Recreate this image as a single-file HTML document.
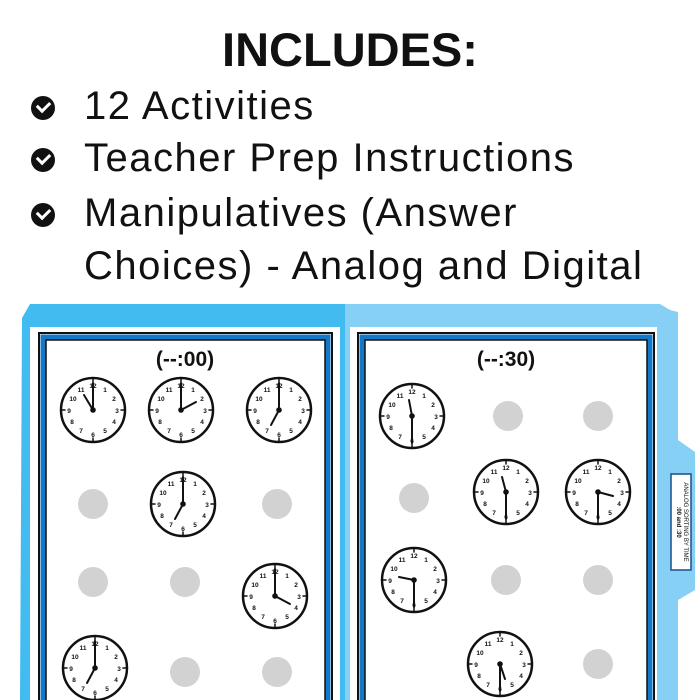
<!DOCTYPE html>
<html><head><style>
body{margin:0;width:700px;height:700px;overflow:hidden;background:#fff;font-family:"Liberation Sans",sans-serif;position:relative}
.h{position:absolute;top:22px;left:0;width:700px;text-align:center;font-size:47px;font-weight:bold;color:#111}
.l{position:absolute;left:84px;font-size:40px;letter-spacing:1.5px;color:#111;white-space:nowrap}
.c{position:absolute;left:31px;width:24px;height:24px;border-radius:50%;background:#111}
.c:after{content:"";position:absolute;left:6px;top:5px;width:10px;height:6px;border-left:3.5px solid #fff;border-bottom:3.5px solid #fff;transform:rotate(-45deg)}
svg text{font-family:"Liberation Sans",sans-serif}
</style></head><body>
<div class="h">INCLUDES:</div>
<div class="c" style="top:96px"></div><div class="l" style="top:84px">12 Activities</div>
<div class="c" style="top:148px"></div><div class="l" style="top:136px">Teacher Prep Instructions</div>
<div class="c" style="top:203px"></div><div class="l" style="top:191px">Manipulatives (Answer</div>
<div class="l" style="top:244px">Choices) - Analog and Digital</div>
<svg width="700" height="700" style="position:absolute;left:0;top:0">
<defs>
<g id="f">
<circle r="32" fill="#fff" stroke="#111" stroke-width="2.5"/>
<g stroke="#111" stroke-width="1.5">
<line x1="0" y1="-32" x2="0" y2="-28"/><line x1="0" y1="32" x2="0" y2="28"/><line x1="-32" y1="0" x2="-28" y2="0"/><line x1="32" y1="0" x2="28" y2="0"/>
</g>
<circle r="1.8" fill="#111"/>
</g>
</defs>
<path d="M22 318 L30 304 L345 304 L345 700 L20 700 Z" fill="#42bbf1"/>
<path d="M345 304 L660 304 L670 310 L678 312 L678 440 L695 452 L695 590 L678 600 L678 700 L345 700 Z" fill="#86cff5"/>
<rect x="30" y="327" width="310" height="380" fill="#fff"/>
<rect x="350" y="327" width="307" height="380" fill="#fff"/>
<rect x="39" y="333" width="293" height="380" fill="none" stroke="#111" stroke-width="2"/>
<rect x="43" y="337" width="285" height="380" fill="none" stroke="#1478c8" stroke-width="5"/>
<rect x="46" y="340" width="279" height="380" fill="#fff" stroke="#111" stroke-width="1.5"/>
<rect x="358" y="333" width="296" height="380" fill="none" stroke="#111" stroke-width="2"/>
<rect x="362" y="337" width="288" height="380" fill="none" stroke="#1478c8" stroke-width="5"/>
<rect x="365" y="340" width="282" height="380" fill="#fff" stroke="#111" stroke-width="1.5"/>
<text x="185" y="366" font-size="21" font-weight="bold" text-anchor="middle" fill="#111">(--:00)</text>
<text x="506" y="366" font-size="21" font-weight="bold" text-anchor="middle" fill="#111">(--:30)</text>
<g fill="#d2d2d2">
<circle cx="93" cy="504" r="15"/><circle cx="277" cy="504" r="15"/><circle cx="93" cy="582" r="15"/><circle cx="185" cy="582" r="15"/><circle cx="185" cy="672" r="15"/><circle cx="277" cy="672" r="15"/>
<circle cx="508" cy="416" r="15"/><circle cx="598" cy="416" r="15"/><circle cx="414" cy="498" r="15"/><circle cx="506" cy="580" r="15"/><circle cx="598" cy="580" r="15"/><circle cx="598" cy="664" r="15"/>
</g>
<rect x="671" y="474" width="20" height="96" fill="#fff" stroke="#1a4f8a" stroke-width="1.5"/>
<text transform="translate(684,522) rotate(90)" font-size="6" text-anchor="middle" fill="#111">ANALOG SORTING BY TIME</text>
<text transform="translate(677,522) rotate(90)" font-size="6" font-weight="bold" text-anchor="middle" fill="#111">:00 and :30</text>
<g font-size="6.5" font-weight="bold" text-anchor="middle" fill="#111" stroke="#111" stroke-width="2" stroke-linecap="round">
<g transform="translate(93,410)"><use href="#f"/><line x1="0" y1="0" x2="0" y2="-27"/><line x1="0" y1="0" x2="-9" y2="-15"/><g stroke="none"><text y="-22">12</text><text x="12" y="-18">1</text><text x="21" y="-9">2</text><text x="24" y="3">3</text><text x="21" y="14">4</text><text x="12" y="23">5</text><text y="27">6</text><text x="-12" y="23">7</text><text x="-21" y="14">8</text><text x="-24" y="3">9</text><text x="-20" y="-9">10</text><text x="-12" y="-18">11</text></g></g>
<g transform="translate(181,410)"><use href="#f"/><line x1="0" y1="0" x2="0" y2="-27"/><line x1="0" y1="0" x2="15" y2="-8"/><g stroke="none"><text y="-22">12</text><text x="12" y="-18">1</text><text x="21" y="-9">2</text><text x="24" y="3">3</text><text x="21" y="14">4</text><text x="12" y="23">5</text><text y="27">6</text><text x="-12" y="23">7</text><text x="-21" y="14">8</text><text x="-24" y="3">9</text><text x="-20" y="-9">10</text><text x="-12" y="-18">11</text></g></g>
<g transform="translate(279,410)"><use href="#f"/><line x1="0" y1="0" x2="0" y2="-27"/><line x1="0" y1="0" x2="-8" y2="15"/><g stroke="none"><text y="-22">12</text><text x="12" y="-18">1</text><text x="21" y="-9">2</text><text x="24" y="3">3</text><text x="21" y="14">4</text><text x="12" y="23">5</text><text y="27">6</text><text x="-12" y="23">7</text><text x="-21" y="14">8</text><text x="-24" y="3">9</text><text x="-20" y="-9">10</text><text x="-12" y="-18">11</text></g></g>
<g transform="translate(183,504)"><use href="#f"/><line x1="0" y1="0" x2="0" y2="-27"/><line x1="0" y1="0" x2="-8" y2="15"/><g stroke="none"><text y="-22">12</text><text x="12" y="-18">1</text><text x="21" y="-9">2</text><text x="24" y="3">3</text><text x="21" y="14">4</text><text x="12" y="23">5</text><text y="27">6</text><text x="-12" y="23">7</text><text x="-21" y="14">8</text><text x="-24" y="3">9</text><text x="-20" y="-9">10</text><text x="-12" y="-18">11</text></g></g>
<g transform="translate(275,596)"><use href="#f"/><line x1="0" y1="0" x2="0" y2="-27"/><line x1="0" y1="0" x2="15" y2="8"/><g stroke="none"><text y="-22">12</text><text x="12" y="-18">1</text><text x="21" y="-9">2</text><text x="24" y="3">3</text><text x="21" y="14">4</text><text x="12" y="23">5</text><text y="27">6</text><text x="-12" y="23">7</text><text x="-21" y="14">8</text><text x="-24" y="3">9</text><text x="-20" y="-9">10</text><text x="-12" y="-18">11</text></g></g>
<g transform="translate(95,668)"><use href="#f"/><line x1="0" y1="0" x2="0" y2="-27"/><line x1="0" y1="0" x2="-8" y2="15"/><g stroke="none"><text y="-22">12</text><text x="12" y="-18">1</text><text x="21" y="-9">2</text><text x="24" y="3">3</text><text x="21" y="14">4</text><text x="12" y="23">5</text><text y="27">6</text><text x="-12" y="23">7</text><text x="-21" y="14">8</text><text x="-24" y="3">9</text><text x="-20" y="-9">10</text><text x="-12" y="-18">11</text></g></g>
<g transform="translate(412,416)"><use href="#f"/><line x1="0" y1="0" x2="0" y2="27"/><line x1="0" y1="0" x2="-3" y2="-16"/><g stroke="none"><text y="-22">12</text><text x="12" y="-18">1</text><text x="21" y="-9">2</text><text x="24" y="3">3</text><text x="21" y="14">4</text><text x="12" y="23">5</text><text y="27">6</text><text x="-12" y="23">7</text><text x="-21" y="14">8</text><text x="-24" y="3">9</text><text x="-20" y="-9">10</text><text x="-12" y="-18">11</text></g></g>
<g transform="translate(506,492)"><use href="#f"/><line x1="0" y1="0" x2="0" y2="27"/><line x1="0" y1="0" x2="-4" y2="-15"/><g stroke="none"><text y="-22">12</text><text x="12" y="-18">1</text><text x="21" y="-9">2</text><text x="24" y="3">3</text><text x="21" y="14">4</text><text x="12" y="23">5</text><text y="27">6</text><text x="-12" y="23">7</text><text x="-21" y="14">8</text><text x="-24" y="3">9</text><text x="-20" y="-9">10</text><text x="-12" y="-18">11</text></g></g>
<g transform="translate(598,492)"><use href="#f"/><line x1="0" y1="0" x2="0" y2="27"/><line x1="0" y1="0" x2="15" y2="4"/><g stroke="none"><text y="-22">12</text><text x="12" y="-18">1</text><text x="21" y="-9">2</text><text x="24" y="3">3</text><text x="21" y="14">4</text><text x="12" y="23">5</text><text y="27">6</text><text x="-12" y="23">7</text><text x="-21" y="14">8</text><text x="-24" y="3">9</text><text x="-20" y="-9">10</text><text x="-12" y="-18">11</text></g></g>
<g transform="translate(414,580)"><use href="#f"/><line x1="0" y1="0" x2="0" y2="27"/><line x1="0" y1="0" x2="-15" y2="-3"/><g stroke="none"><text y="-22">12</text><text x="12" y="-18">1</text><text x="21" y="-9">2</text><text x="24" y="3">3</text><text x="21" y="14">4</text><text x="12" y="23">5</text><text y="27">6</text><text x="-12" y="23">7</text><text x="-21" y="14">8</text><text x="-24" y="3">9</text><text x="-20" y="-9">10</text><text x="-12" y="-18">11</text></g></g>
<g transform="translate(500,664)"><use href="#f"/><line x1="0" y1="0" x2="0" y2="27"/><line x1="0" y1="0" x2="5" y2="15"/><g stroke="none"><text y="-22">12</text><text x="12" y="-18">1</text><text x="21" y="-9">2</text><text x="24" y="3">3</text><text x="21" y="14">4</text><text x="12" y="23">5</text><text y="27">6</text><text x="-12" y="23">7</text><text x="-21" y="14">8</text><text x="-24" y="3">9</text><text x="-20" y="-9">10</text><text x="-12" y="-18">11</text></g></g>
</g>
</svg>
</body></html>
